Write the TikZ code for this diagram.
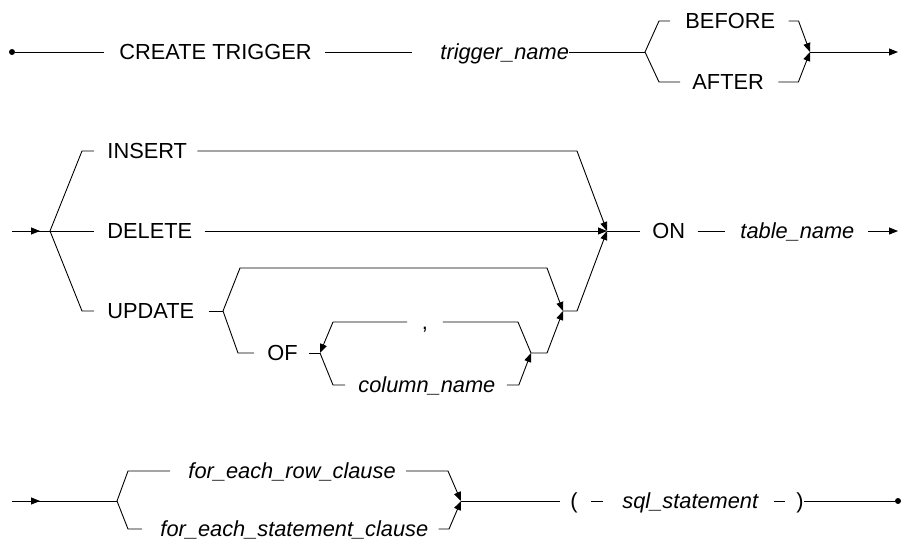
\documentclass[tikz,border=0pt]{standalone}
\usepackage{fontspec}
\setmainfont{Liberation Sans}
\usetikzlibrary{arrows.meta}
\newcommand\dgfont{\fontsize{21.8}{26}\selectfont}
\begin{document}
\begin{tikzpicture}[x=1pt,y=-1pt, line width=0.9pt,
  txt/.style={inner sep=0pt, text height=15pt, text depth=0pt, anchor=west, font=\dgfont},
  var/.style={txt, font=\dgfont\itshape},
  arr/.style={-{Triangle[length=9pt,width=7pt]}},
  dot/.style={circle, fill, inner sep=0pt, minimum size=6pt}]
\useasboundingbox (0,0) rectangle (902,542);
% ---------- Row 1
\node[dot] (s1) at (12,52) {};
\node[txt] (ct) at (119,52) {CREATE TRIGGER};
\node[var] (tn) at (440,52) {trigger\_name};
\coordinate (b1) at (645,52);
\node[txt] (bef) at (685,21) {BEFORE};
\node[txt] (aft) at (692,82) {AFTER};
\coordinate (m1) at (810,52);
\coordinate (e1) at (898,52);
\draw (s1) -- ([xshift=-15pt]ct.west);
\draw ([xshift=13pt]ct.east) -- ([xshift=-28pt]tn.west);
\draw (tn.east) -- (b1);
\draw (b1) -- ++(14,-31) -- ([xshift=-15pt]bef.west);
\draw[arr] ([xshift=13pt]bef.east) -- ++(10,0) -- (m1);
\draw (b1) -- ++(14,30) -- ([xshift=-12pt]aft.west);
\draw[arr] ([xshift=14pt]aft.east) -- ++(20,0) -- (m1);
\draw[arr] (m1) -- (e1);
% ---------- Row 2
\coordinate (s2) at (12,231);
\coordinate (b2) at (50,231);
\node[txt] (ins) at (107,151) {INSERT};
\node[txt] (del) at (107,231) {DELETE};
\node[txt] (upd) at (107,311) {UPDATE};
\coordinate (b3) at (223,311);
\node[txt] (of) at (267,353) {OF};
\coordinate (b4) at (320,353);
\node[txt, inner xsep=14.5pt] (cm) at (407,322) {,};
\node[var] (col) at (358,385) {column\_name};
\coordinate (m4) at (531,353);
\coordinate (m3) at (563,311);
\coordinate (m2) at (607,231);
\node[txt] (on) at (652,231) {ON};
\node[var] (tbl) at (740,231) {table\_name};
\coordinate (e2) at (898,231);
\draw (s2) -- (b2);
\draw[arr] (s2) -- ++(28,0);
\draw (b2) -- ++(32,-80) -- ([xshift=-13pt]ins.west);
\draw[arr] ([xshift=10pt]ins.east) -- ([shift={(-30,-80)}]m2) -- (m2);
\draw (b2) -- ([xshift=-13pt]del.west);
\draw[arr] ([xshift=12pt]del.east) -- (m2);
\draw (b2) -- ++(32,80) -- ([xshift=-13pt]upd.west);
\draw ([xshift=14pt]upd.east) -- (b3);
\draw[arr] (b3) -- ++(17,-43) -- ([shift={(-16,-43)}]m3) -- (m3);
\draw (b3) -- ++(15,42) -- ([xshift=-13pt]of.west);
\draw ([xshift=11pt]of.east) -- (b4);
\draw (b4) -- ++(13,32) -- ([xshift=-13pt]col.west);
\draw[arr] ([xshift=11pt]col.east) -- ++(12,0) -- (m4);
\draw (m4) -- ++(-13,-31) -- (cm.east);
\draw[arr] (cm.west) -- ++(-74,0) -- (b4);
\draw[arr] (m4) -- ++(16,0) -- (m3);
\draw[arr] (m3) -- ++(14,0) -- (m2);
\draw (m2) -- ([xshift=-12pt]on.west);
\draw ([xshift=12pt]on.east) -- ([xshift=-15pt]tbl.west);
\draw[arr] ([xshift=13pt]tbl.east) -- (e2);
% ---------- Row 3
\coordinate (s3) at (12,501);
\coordinate (b5) at (117,501);
\node[var] (frc) at (188,471) {for\_each\_row\_clause};
\node[var] (fsc) at (160,529) {for\_each\_statement\_clause};
\coordinate (m5) at (461,501);
\node[txt] (lp) at (570,501) {(};
\node[var] (sql) at (622,501) {sql\_statement};
\node[txt] (rp) at (796,501) {)};
\node[dot] (e3) at (898,501) {};
\draw (s3) -- (b5);
\draw[arr] (s3) -- ++(28,0);
\draw (b5) -- ++(11,-30) -- ([xshift=-18pt]frc.west);
\draw[arr] ([xshift=10pt]frc.east) -- ([shift={(-13,-30)}]m5) -- (m5);
\draw (b5) -- ++(11,28) -- ([xshift=-18pt]fsc.west);
\draw[arr] ([xshift=10pt]fsc.east) -- ([shift={(-12,28)}]m5) -- (m5);
\draw (m5) -- ([xshift=-10pt]lp.west);
\draw ([xshift=13pt]lp.east) -- ([xshift=-19pt]sql.west);
\draw ([xshift=15pt]sql.east) -- ([xshift=-11pt]rp.west);
\draw (rp.east) -- (e3);
\end{tikzpicture}
\end{document}
